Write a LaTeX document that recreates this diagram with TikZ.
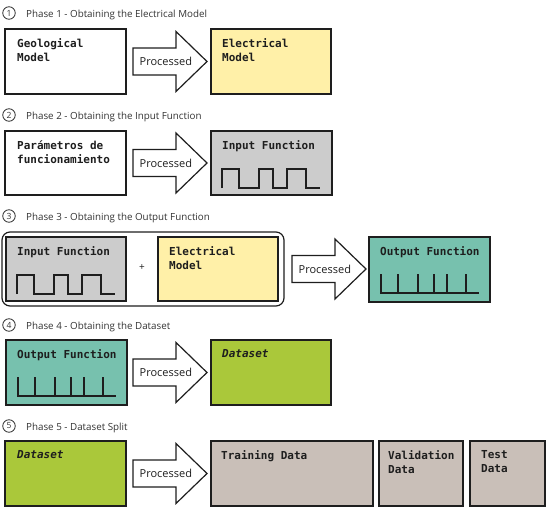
\documentclass[tikz,border=0pt]{standalone}
\usepackage{fontspec}
\setmainfont{Open Sans}
\newfontfamily\boxfont{DejaVu Sans Mono}
\definecolor{yel}{HTML}{FFF0A8}
\definecolor{gry}{HTML}{CCCCCC}
\definecolor{teal2}{HTML}{77C1AE}
\definecolor{lime2}{HTML}{AAC83A}
\definecolor{taupe}{HTML}{C9BFB8}
\definecolor{ink}{HTML}{1E1E1E}
\tikzset{
 box/.style={draw=ink, line width=1.3pt, anchor=north west, inner sep=0pt, outer sep=0pt},
 lbl/.style={anchor=north west, inner sep=0pt, align=left, text=ink, font=\boxfont\bfseries\fontsize{11}{13.8}\selectfont},
 ttl/.style={anchor=base west, inner sep=0pt, text=black!80, font=\fontsize{9.8}{11}\selectfont},
 num/.style={circle, draw=black!80, line width=0.8pt, minimum size=12.5pt, inner sep=0pt, text=black!80, font=\fontsize{8.5}{10}\selectfont},
 arrowshape/.style={draw=ink, line width=1.2pt, fill=white, line join=miter},
 proc/.style={anchor=west, inner sep=0pt, text=ink, font=\fontsize{11}{13}\selectfont},
 wave/.style={line width=1.3pt, draw=ink},
}
\newcommand\procarrow[3]{%
 \draw[arrowshape] (#2,#3-13.5) -- ++(43,0) -- ++(0,-16.5) -- (#2+74,#3) -- (#2+43,#3+30) -- ++(0,-16.5) -- (#2,#3+13.5) -- cycle;
 \node[proc] (#1) at (#2+6.5,#3) {Processed};}
\newcommand\squarewave{%
 \draw[wave] (11,57) -- (11,38) -- (28,38) -- (28,57) -- (48,57) -- (48,38) -- (62,38) -- (62,57) -- (76,57) -- (76,38) -- (95,38) -- (95,57) -- (109,57);}
\newcommand\pulses{%
 \draw[wave] (12,37) -- (12,56) -- (110,56);
 \foreach \px in {29,49,65,78,97} {\draw[wave] (\px,56) -- (\px,37);}}
\begin{document}
\begin{tikzpicture}[x=1pt,y=-1pt]
\useasboundingbox (0,0) rectangle (550,514);

% ---------- Phase 1 ----------
\node[num] (n1) at (9,13) {1};
\node[ttl] (t1) at (26,17.3) {Phase 1 - Obtaining the Electrical Model};
\node[box, fill=white, minimum width=121pt, minimum height=65pt] (geo) at (5,29) {};
\node[lbl] (geol) at (17,38.5) {Geological\\Model};
\procarrow{p1}{133}{61.5}
\node[box, fill=yel, minimum width=120pt, minimum height=65pt] (elec1) at (211,29) {};
\node[lbl] (elec1l) at (222,38.5) {Electrical\\Model};

% ---------- Phase 2 ----------
\node[num] (n2) at (9,115) {2};
\node[ttl] (t2) at (26,119.3) {Phase 2 - Obtaining the Input Function};
\node[box, fill=white, minimum width=121pt, minimum height=64pt] (par) at (5,131) {};
\node[lbl] (parl) at (17,140.5) {Parámetros de\\funcionamiento};
\procarrow{p2}{133}{163}
\node[box, fill=gry, minimum width=121pt, minimum height=64pt] (in2) at (211,131) {};
\node[lbl] (in2l) at (222,140.5) {Input Function};
\begin{scope}[shift={(211,131)}]\squarewave\end{scope}

% ---------- Phase 3 ----------
\node[num] (n3) at (9,216) {3};
\node[ttl] (t3) at (26,220.3) {Phase 3 - Obtaining the Output Function};
\node[box, fill=white, rounded corners=8pt, line width=1.2pt, minimum width=282pt, minimum height=74pt] (grp) at (2,232) {};
\node[box, fill=gry, minimum width=120pt, minimum height=64pt] (in3) at (6,237) {};
\node[lbl] (in3l) at (17,246.5) {Input Function};
\begin{scope}[shift={(6,237)}]\squarewave\end{scope}
\node[inner sep=0pt, text=ink, font=\fontsize{10}{11}\selectfont] (plus) at (142,268) {+};
\node[box, fill=yel, minimum width=120pt, minimum height=64pt] (elec3) at (158,237) {};
\node[lbl] (elec3l) at (169,246.5) {Electrical\\Model};
\procarrow{p3}{292}{269}
\node[box, fill=teal2, minimum width=121pt, minimum height=65pt] (out3) at (369,237) {};
\node[lbl] (out3l) at (380,246.5) {Output Function};
\begin{scope}[shift={(369,237)}]\pulses\end{scope}

% ---------- Phase 4 ----------
\node[num] (n4) at (9,325) {4};
\node[ttl] (t4) at (26,329.3) {Phase 4 - Obtaining the Dataset};
\node[box, fill=teal2, minimum width=121pt, minimum height=65pt] (out4) at (6,340) {};
\node[lbl] (out4l) at (17,349.5) {Output Function};
\begin{scope}[shift={(6,340)}]\pulses\end{scope}
\procarrow{p4}{133}{372.5}
\node[box, fill=lime2, minimum width=120pt, minimum height=65pt] (ds4) at (211,340) {};
\node[lbl, font=\boxfont\bfseries\itshape\fontsize{11}{13.8}\selectfont] (ds4l) at (222,349.5) {Dataset};

% ---------- Phase 5 ----------
\node[num] (n5) at (9,426) {5};
\node[ttl] (t5) at (26,430.3) {Phase 5 - Dataset Split};
\node[box, fill=lime2, minimum width=121pt, minimum height=65pt] (ds5) at (5,441) {};
\node[lbl, font=\boxfont\bfseries\itshape\fontsize{11}{13.8}\selectfont] (ds5l) at (17,450.5) {Dataset};
\procarrow{p5}{133}{473.5}
\node[box, fill=taupe, minimum width=162pt, minimum height=65pt] (train) at (211,441) {};
\node[lbl] (trainl) at (221,450.5) {Training Data};
\node[box, fill=taupe, minimum width=84pt, minimum height=65pt] (val) at (379,441) {};
\node[lbl] (vall) at (388,450.5) {Validation\\Data};
\node[box, fill=taupe, minimum width=75pt, minimum height=65pt] (test) at (470,441) {};
\node[lbl] (testl) at (481,450.5) {Test\\Data};
\end{tikzpicture}
\end{document}
